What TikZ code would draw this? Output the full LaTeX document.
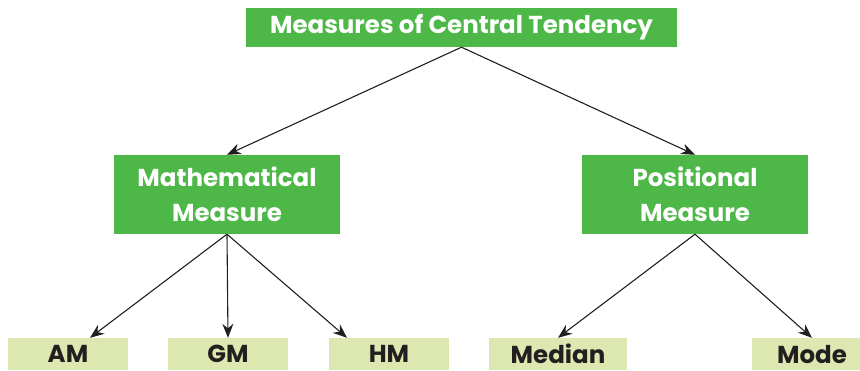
\documentclass[tikz,border=0pt]{standalone}
\usepackage{fontspec}
\setmainfont{Poppins}
\usetikzlibrary{positioning, calc, arrows.meta}

\definecolor{darkgreen}{HTML}{4DB848}
\definecolor{palegreen}{HTML}{DDE8B1}
\definecolor{inkblack}{HTML}{231F20}

\tikzset{
    topbox/.style={rectangle, fill=darkgreen, text=white, font=\fontsize{24.5}{35}\selectfont\bfseries, align=center, inner sep=0pt},
    leafbox/.style={rectangle, fill=palegreen, text=inkblack, font=\fontsize{24.5}{35}\selectfont\bfseries, minimum height=32pt, inner sep=0pt, text depth=0pt},
    link/.style={draw=inkblack, line width=1.1pt, -{Stealth[length=14pt, width=11pt]}}
}

\begin{document}
\begin{tikzpicture}[x=1pt, y=-1pt]
        \useasboundingbox (0,0) rectangle (860,370);
        \clip (0,0) rectangle (860,370);

        \node[topbox, minimum width=431pt, minimum height=39pt] (mct) at (461.5, 27.5) {Measures of Central Tendency};
        \node[topbox, minimum width=226pt, minimum height=79pt] (math) at (227, 194.5) {Mathematical\\Measure};
        \node[topbox, minimum width=226pt, minimum height=79pt] (pos) at (695, 194.5) {Positional\\Measure};

        \node[leafbox, minimum width=120pt] (am) at (68, 354) {AM};
        \node[leafbox, minimum width=120pt] (gm) at (228, 354) {GM};
        \node[leafbox, minimum width=120pt] (hm) at (389, 354) {HM};
        \node[leafbox, minimum width=138pt] (median) at (558, 354) {Median};
        \node[leafbox, minimum width=120pt] (mode) at (812, 354) {Mode};

        \draw[link] (mct.south) to (math.north);
        \draw[link] (mct.south) to (pos.north);

        \draw[link] (math.south) to ($(am.north)+(22,0)$);
        \draw[link] (math.south) to (gm.north);
        \draw[link] (math.south) to ($(hm.north)+(-42,0)$);
        \draw[link] (pos.south) to (median.north);
        \draw[link] (pos.south) to (mode.north);
    \end{tikzpicture}
\end{document}
